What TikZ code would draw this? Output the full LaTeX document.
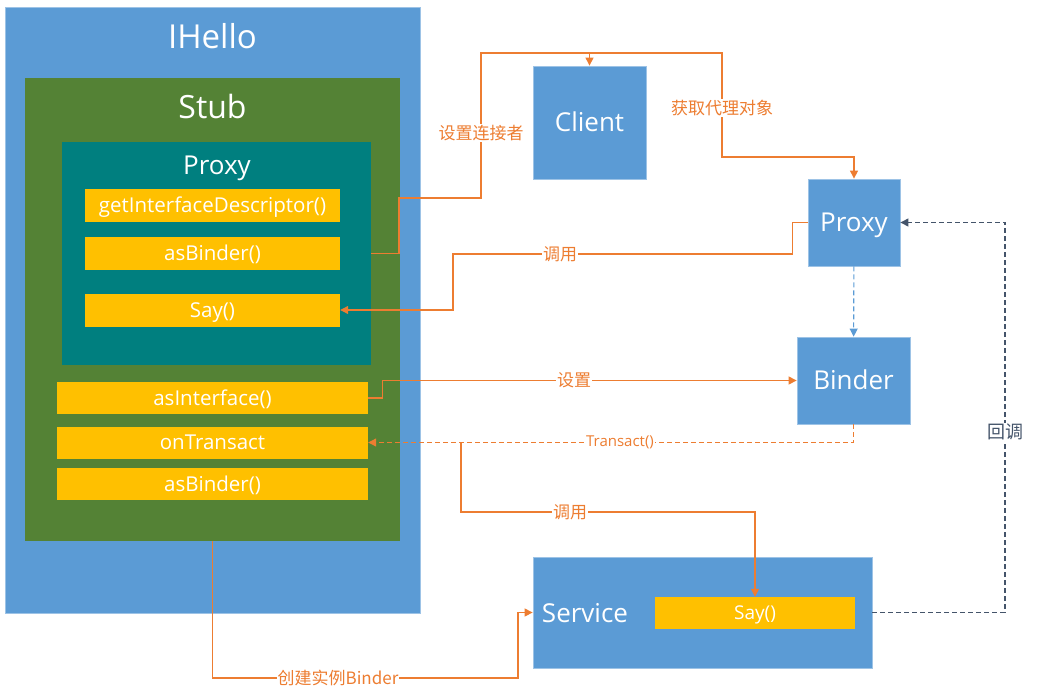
\documentclass[tikz,border=0pt]{standalone}
\usepackage{fontspec}
\setmainfont{Open Sans}
\newfontfamily\cjk{Noto Sans CJK SC}
\usetikzlibrary{positioning}
\usetikzlibrary{arrows.meta}

\definecolor{ublue}{HTML}{5B9BD5}
\definecolor{ugreen}{HTML}{548235}
\definecolor{uteal}{HTML}{007F7F}
\definecolor{uyellow}{HTML}{FFC000}
\definecolor{uorange}{HTML}{ED7D31}
\definecolor{udark}{HTML}{44546A}

\tikzset{
  box/.style={rectangle, inner sep=0pt, text=white, text depth=0pt},
  block/.style={box, fill=ublue, draw=ublue!60!white, line width=0.8pt, text height=18.7pt, font=\fontsize{26}{28}\selectfont},
  method/.style={box, fill=uyellow, text height=14.8pt, font=\fontsize{20.5}{22}\selectfont},
  link/.style={uorange, line width=1.1pt, -{Triangle[length=8pt,width=8pt]}},
  lbl/.style={fill=white, inner sep=1pt, text=uorange, font=\cjk\fontsize{17}{18}\selectfont},
}

\begin{document}
\begin{tikzpicture}[x=1pt, y=-1pt]
\useasboundingbox (0,0) rectangle (1038,699);

% Interface with its stub and proxy
\node[box, fill=ublue, draw=ublue!60!white, line width=0.8pt, minimum width=415, minimum height=606] (ihello) at (212.5,310) {};
\node[text=white, font=\fontsize{33}{35}\selectfont] (ihelloT) at (212.5,36) {IHello};
\node[box, fill=ugreen, minimum width=375, minimum height=463] (stub) at (212.5,309.5) {};
\node[text=white, font=\fontsize{32}{34}\selectfont] (stubT) at (212.5,106) {Stub};
\node[box, fill=uteal, minimum width=309, minimum height=223] (inProxy) at (216.5,253.5) {};
\node[text=white, font=\fontsize{26}{28}\selectfont] (inProxyT) at (217,168) {Proxy};

% Proxy methods
\foreach \n/\t/\y in {getDesc/getInterfaceDescriptor()/205.5, pBinder/asBinder()/253.5, say/Say()/310} {
    \node[method, minimum width=255, minimum height=33] (\n) at (212.5,\y) {\t};
}

% Stub methods
\foreach \n/\t/\y in {asIface/asInterface()/398, onTr/onTransact/442.5, sBinder/asBinder()/484} {
    \node[method, minimum width=311, minimum height=32] (\n) at (212.5,\y) {\t};
}

% Right side blocks
\node[block, minimum width=113, minimum height=113] (client) at (589.5,122.5) {Client};
\node[block, minimum width=92, minimum height=87] (proxy) at (854,222.5) {Proxy};
\node[block, minimum width=113, minimum height=87] (binder) at (853.5,380.5) {Binder};
\node[block, minimum width=339, minimum height=111] (service) at (702.5,612.5) {};
\node[text=white, font=\fontsize{26}{28}\selectfont] (serviceT) at (585,613) {Service};
\node[method, text height=13.7pt, font=\fontsize{19}{20}\selectfont, minimum width=200, minimum height=32] (saySrv) at (755,613) {Say()};

% Connections
\coordinate (top) at (589.5,53);
\draw[link] (inProxy.east) -| (399,198) -| (481,53) -| (client.north);
\node[lbl] (setConn) at (481,133) {设置连接者};
\draw[link] (top) -| (722,157) -| (proxy.north);
\node[lbl] (getProxy) at (722,108) {获取代理对象};

\draw[link] (proxy.west) -- ++(-15,0) |- (453,254) |- (say.east);
\node[lbl] (call1) at (560,254) {调用};

\draw[ublue, line width=1.1pt, dash pattern=on 5pt off 3pt, -{Triangle[length=8pt,width=8pt]}] (proxy) -- (binder);

\draw[link] (asIface.east) -- ++(14,0) |- (binder.west);
\node[lbl] (setB) at (574,380) {设置};

\draw[link, dash pattern=on 5pt off 3pt] (binder.south) |- (onTr.east);
\node[lbl, font=\fontsize{15}{16}\selectfont] (transact) at (620,442.5) {Transact()};

\coordinate (branch) at (461,442.5);
\draw[link] (branch) -- (461,512) -| (saySrv.north);
\node[lbl] (call2) at (570,512) {调用};

\draw[link] (stub.south) |- (518,678) |- (service.west);
\node[lbl] (create) at (338,678) {创建实例Binder};

\draw[udark, line width=1.1pt, dash pattern=on 5pt off 3pt, -{Triangle[length=8pt,width=8pt]}] (service.east) -| (1005,222.5) -- (proxy.east);
\node[lbl, text=udark, font=\cjk\fontsize{18}{20}\selectfont] (callback) at (1005,432) {回调};

\end{tikzpicture}
\end{document}
